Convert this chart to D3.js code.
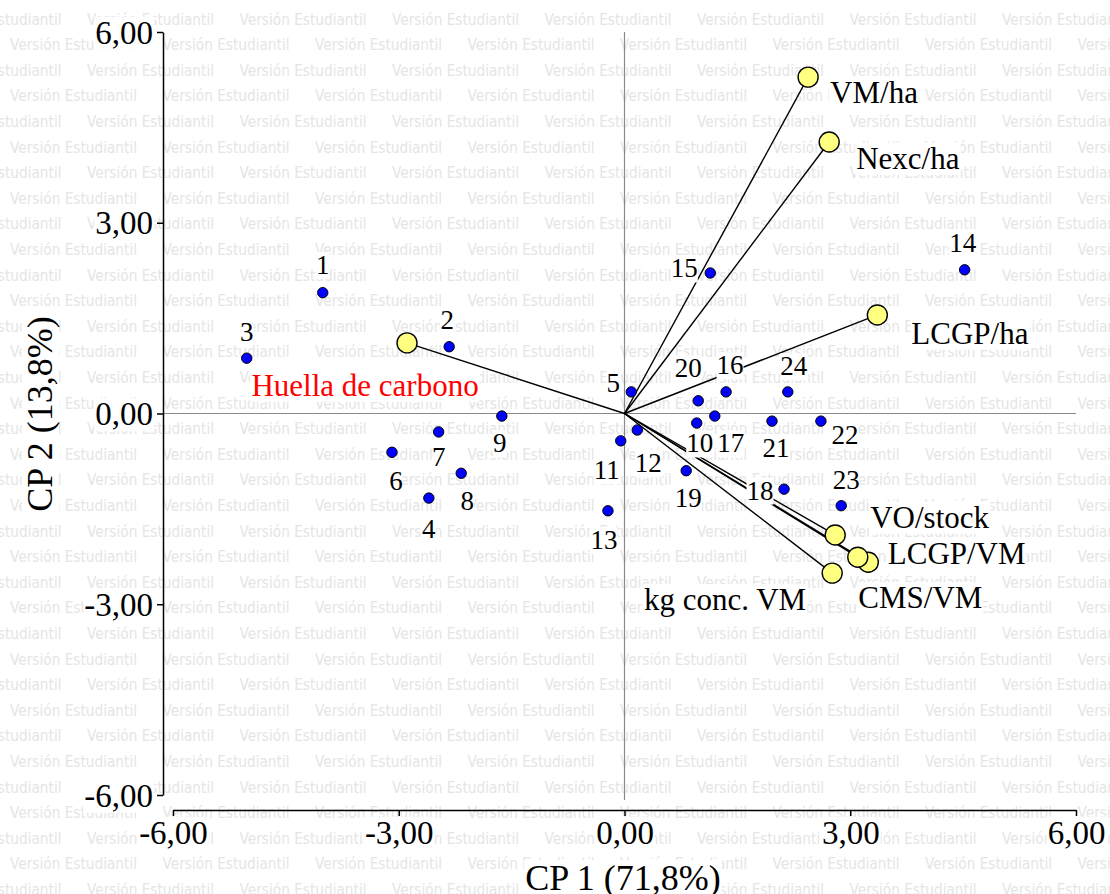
<!DOCTYPE html>
<html lang="es">
<head>
<meta charset="UTF-8">
<title>Biplot CP 1 - CP 2</title>
<style>
    body { margin: 0; background: #fff; }
    svg { display: block; }
</style>
</head>
<body>
<script src="https://cdn.jsdelivr.net/npm/d3@7"></script>
<script>
    // observaciones (puntos azules)
    const obsIds = ['1', '2', '3', '4', '5', '6', '7', '8', '9', '10', '11', '12',
        '13', '14', '15', '16', '17', '18', '19', '20', '21', '22', '23', '24'];
    const obsCp1 = [-4.01, -2.33, -5.02, -2.60, 0.09, -3.09, -2.47, -2.17, -1.63, 0.96, -0.05, 0.17,
        -0.22, 4.52, 1.14, 1.35, 1.20, 2.12, 0.82, 0.98, 1.96, 2.61, 2.88, 2.17];
    const obsCp2 = [1.90, 1.05, 0.87, -1.33, 0.34, -0.61, -0.29, -0.94, -0.04, -0.15, -0.43, -0.26,
        -1.53, 2.26, 2.21, 0.34, -0.04, -1.19, -0.90, 0.20, -0.12, -0.12, -1.45, 0.34];

    // variables (vectores amarillos)
    const varNames = ['VM/ha', 'Nexc/ha', 'LCGP/ha', 'Huella de carbono', 'VO/stock', 'CMS/VM', 'LCGP/VM', 'kg conc. VM'];
    const varCp1 = [2.44, 2.72, 3.36, -2.89, 2.80, 3.24, 3.10, 2.76];
    const varCp2 = [5.29, 4.27, 1.55, 1.11, -1.91, -2.34, -2.26, -2.51];

    const tickVals = [-6, -3, 0, 3, 6];
    const xTitle = 'CP 1 (71,8%)';
    const yTitle = 'CP 2 (13,8%)';

    // where each label sits relative to its mark (px)
    const obsLabelOffset = [[0, -28], [-2, -27], [0, -27], [0, 30], [-18, -9], [4, 28], [0, 25], [6, 27],
        [-2, 27], [3, 20], [-14, 29], [11, 33], [-4, 29], [-2, -27], [-26, -5], [4, -27], [16, 27],
        [-24, 1], [2, 27], [-10, -33], [4, 26], [24, 13], [5, -26], [6, -26]];
    const varLabelOffset = [[22, 15, 'start'], [27, 16, 'start'], [34, 18, 'start'], [-42, 42, 'middle'],
        [35, -18, 'start'], [-10, 35, 'start'], [30, -4, 'start'], [-26, 26, 'end']];

    const W = 1110, H = 894;
    const serif = '"Liberation Serif", "Times New Roman", serif';

    const svg = d3.select('body').append('svg')
        .attr('width', W)
        .attr('height', H)
        .style('background', '#fff');

    // marca de agua
    const wm = svg.append('g')
        .attr('font-family', '"DejaVu Sans", Verdana, sans-serif')
        .attr('font-size', 15.2)
        .attr('fill', '#e5e5e5');
    for (let r = 0; r < 35; r++) {
        const x0 = r % 2 === 0 ? -65.5 : 10;
        for (let c = 0; c < 9; c++) {
            wm.append('text')
                .attr('x', x0 + c * 152.5)
                .attr('y', 24.5 + r * 25.6)
                .attr('textLength', 127)
                .attr('lengthAdjust', 'spacingAndGlyphs')
                .text('Versión Estudiantil');
        }
    }

    const x = d3.scaleLinear().domain([-6, 6]).range([173, 1076]);
    const y = d3.scaleLinear().domain([-6, 6]).range([795, 32]);

    const es = d3.formatLocale({ decimal: ',', thousands: '.', grouping: [3], currency: ['', ''], minus: '-' });
    const fmt = es.format('.2f');

    // white box behind a text node
    function boxBehind(sel, pad) {
        sel.each(function () {
            const b = this.getBBox();
            d3.select(this.parentNode).insert('rect', () => this)
                .attr('x', b.x - pad)
                .attr('y', b.y + 2)
                .attr('width', b.width + 2 * pad)
                .attr('height', b.height - 3)
                .attr('transform', d3.select(this).attr('transform'))
                .attr('fill', '#fff');
        });
    }

    // lineas de referencia
    svg.append('line')
        .attr('x1', x(0)).attr('x2', x(0))
        .attr('y1', y(6)).attr('y2', 800)
        .attr('stroke', '#8a8a8a').attr('stroke-width', 1.2);
    svg.append('line')
        .attr('x1', 163).attr('x2', x(6))
        .attr('y1', y(0)).attr('y2', y(0))
        .attr('stroke', '#8a8a8a').attr('stroke-width', 1.2);

    // ejes
    const gy = svg.append('g')
        .attr('transform', 'translate(163,0)')
        .call(d3.axisLeft(y).tickValues(tickVals).tickFormat(fmt).tickSize(6).tickSizeOuter(0));
    const gx = svg.append('g')
        .attr('transform', 'translate(0,810)')
        .call(d3.axisBottom(x).tickValues(tickVals).tickFormat(fmt).tickSize(6).tickSizeOuter(0));

    [gy, gx].forEach(g => {
        g.select('.domain').attr('stroke', '#000').attr('stroke-width', 1.5);
        g.selectAll('.tick line').attr('stroke', '#000').attr('stroke-width', 1.5);
        g.selectAll('.tick text')
            .attr('font-family', serif)
            .attr('font-size', 33)
            .attr('fill', '#000');
        g.attr('font-family', null).attr('font-size', null);
    });
    gy.selectAll('.tick text').attr('x', -10).attr('dy', '0.34em');
    gx.selectAll('.tick text').attr('y', 8).attr('dy', '0.78em');
    boxBehind(gy.selectAll('.tick text'), 1);
    boxBehind(gx.selectAll('.tick text'), 1);

    // titulos de ejes
    const xt = svg.append('text')
        .attr('x', 623).attr('y', 890)
        .attr('text-anchor', 'middle')
        .attr('font-family', serif).attr('font-size', 36)
        .text(xTitle);
    const yt = svg.append('text')
        .attr('transform', 'translate(52,414) rotate(-90)')
        .attr('text-anchor', 'middle')
        .attr('font-family', serif).attr('font-size', 36)
        .text(yTitle);
    boxBehind(xt, 1);
    boxBehind(yt, 1);

    // vectores
    const vars = varNames.map((n, i) => ({ name: n, cp1: varCp1[i], cp2: varCp2[i], off: varLabelOffset[i] }));
    const obs = obsIds.map((id, i) => ({ id: id, cp1: obsCp1[i], cp2: obsCp2[i], off: obsLabelOffset[i] }));

    svg.append('g').selectAll('line')
        .data(vars)
        .join('line')
        .attr('x1', x(0)).attr('y1', y(0))
        .attr('x2', d => x(d.cp1)).attr('y2', d => y(d.cp2))
        .attr('stroke', '#000').attr('stroke-width', 1.4);

    // etiquetas
    const obsLab = svg.append('g').selectAll('text')
        .data(obs)
        .join('text')
        .attr('x', d => x(d.cp1) + d.off[0])
        .attr('y', d => y(d.cp2) + d.off[1])
        .attr('dy', '0.35em')
        .attr('text-anchor', 'middle')
        .attr('font-family', serif).attr('font-size', 27)
        .text(d => d.id);
    boxBehind(obsLab, 0);

    const varLab = svg.append('g').selectAll('text')
        .data(vars)
        .join('text')
        .attr('x', d => x(d.cp1) + d.off[0])
        .attr('y', d => y(d.cp2) + d.off[1])
        .attr('dy', '0.35em')
        .attr('text-anchor', d => d.off[2])
        .attr('font-family', serif).attr('font-size', 31)
        .attr('fill', d => d.name === 'Huella de carbono' ? '#ff0000' : '#000')
        .text(d => d.name);
    boxBehind(varLab, 1);

    // puntos
    svg.append('g').selectAll('circle')
        .data(obs)
        .join('circle')
        .attr('cx', d => x(d.cp1)).attr('cy', d => y(d.cp2))
        .attr('r', 5.2)
        .attr('fill', '#0000ff')
        .attr('stroke', '#000').attr('stroke-width', 1);

    svg.append('g').selectAll('circle')
        .data(vars)
        .join('circle')
        .attr('cx', d => x(d.cp1)).attr('cy', d => y(d.cp2))
        .attr('r', 10)
        .attr('fill', '#ffff80')
        .attr('stroke', '#000').attr('stroke-width', 1.4);
</script>
</body>
</html>
